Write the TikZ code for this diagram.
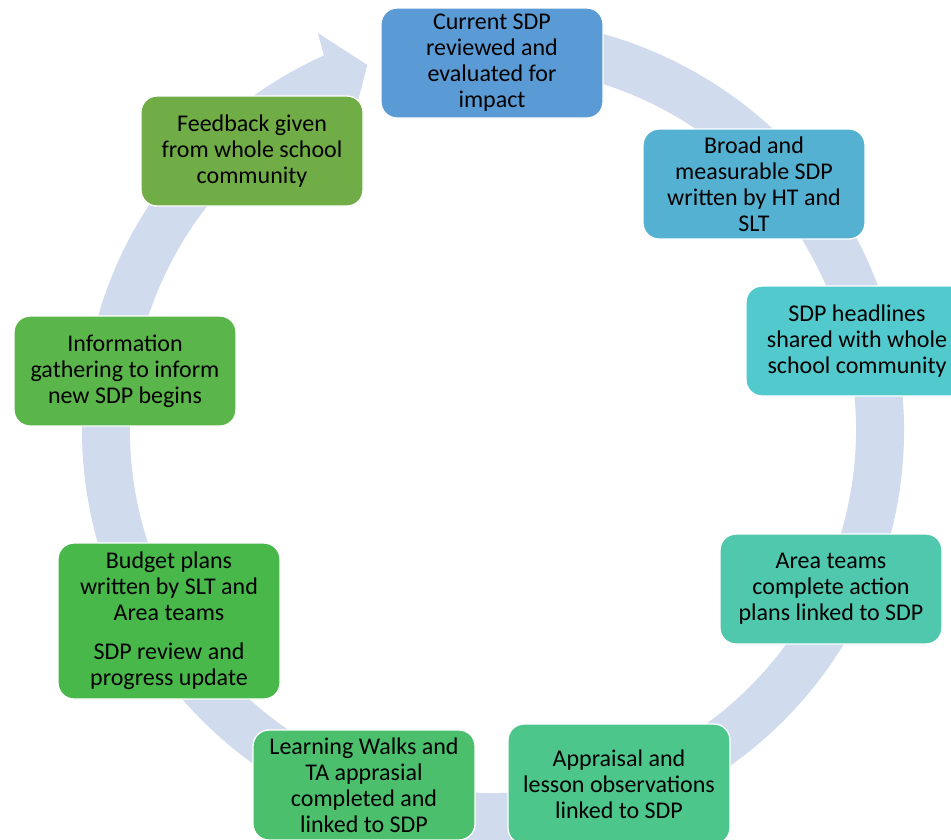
\documentclass[tikz,border=0pt]{standalone}
\usepackage{fontspec}
\setmainfont{Carlito}
\definecolor{ringblue}{HTML}{D0DBEE}
\definecolor{reviewcol}{HTML}{5B9BD5}
\definecolor{broadcol}{HTML}{55B1D2}
\definecolor{sharecol}{HTML}{52C9CD}
\definecolor{areacol}{HTML}{4FC8AE}
\definecolor{appraisecol}{HTML}{4DC68C}
\definecolor{walkcol}{HTML}{4BBF6B}
\definecolor{budgetcol}{HTML}{48B84B}
\definecolor{infocol}{HTML}{5AB54A}
\definecolor{feedcol}{HTML}{70AD47}
\begin{document}
\begin{tikzpicture}[x = .75pt, y = .75pt,
	stage/.style = {draw = white, line width = 1pt, rounded corners = 12pt, inner sep = 2pt,
		minimum width = 166.5pt, minimum height = 82.5pt, align = center,
		font = \fontsize{18}{19.5}\selectfont}]
	\clip (0,0) rectangle (951,-840);
	\useasboundingbox (0,0) rectangle (951,-840);
	% circular arrow
	\fill[ringblue, shift = {(493,-430)}] (100:411) arc (100:-245.7:411) -- (113.8:434) -- (109:386)
		-- (114.3:340) -- (114.3:363) arc (-245.7:100:363) -- cycle;
	% stages
	\node[stage, fill = reviewcol] (review) at (492,-63) {Current SDP\\reviewed and\\evaluated for\\impact};
	\node[stage, fill = broadcol] (broad) at (754,-184) {Broad and\\measurable SDP\\written by HT and\\SLT};
	\node[stage, fill = sharecol] (share) at (857,-341) {SDP headlines\\shared with whole\\school community};
	\node[stage, fill = areacol] (area) at (831,-589) {Area teams\\complete action\\plans linked to SDP};
	\node[stage, fill = appraisecol, minimum height = 90pt] (appraise) at (619,-784) {Appraisal and\\lesson observations\\linked to SDP};
	\node[stage, fill = walkcol] (walks) at (364,-785) {Learning Walks and\\TA apprasial\\completed and\\linked to SDP};
	\node[stage, fill = budgetcol, minimum height = 117pt] (budget) at (169,-621) {Budget plans\\written by SLT and\\Area teams\\[10pt]SDP review and\\progress update};
	\node[stage, fill = infocol] (info) at (125,-371) {Information\\gathering to inform\\new SDP begins};
	\node[stage, fill = feedcol] (feedback) at (252,-151) {Feedback given\\from whole school\\community};
\end{tikzpicture}
\end{document}
